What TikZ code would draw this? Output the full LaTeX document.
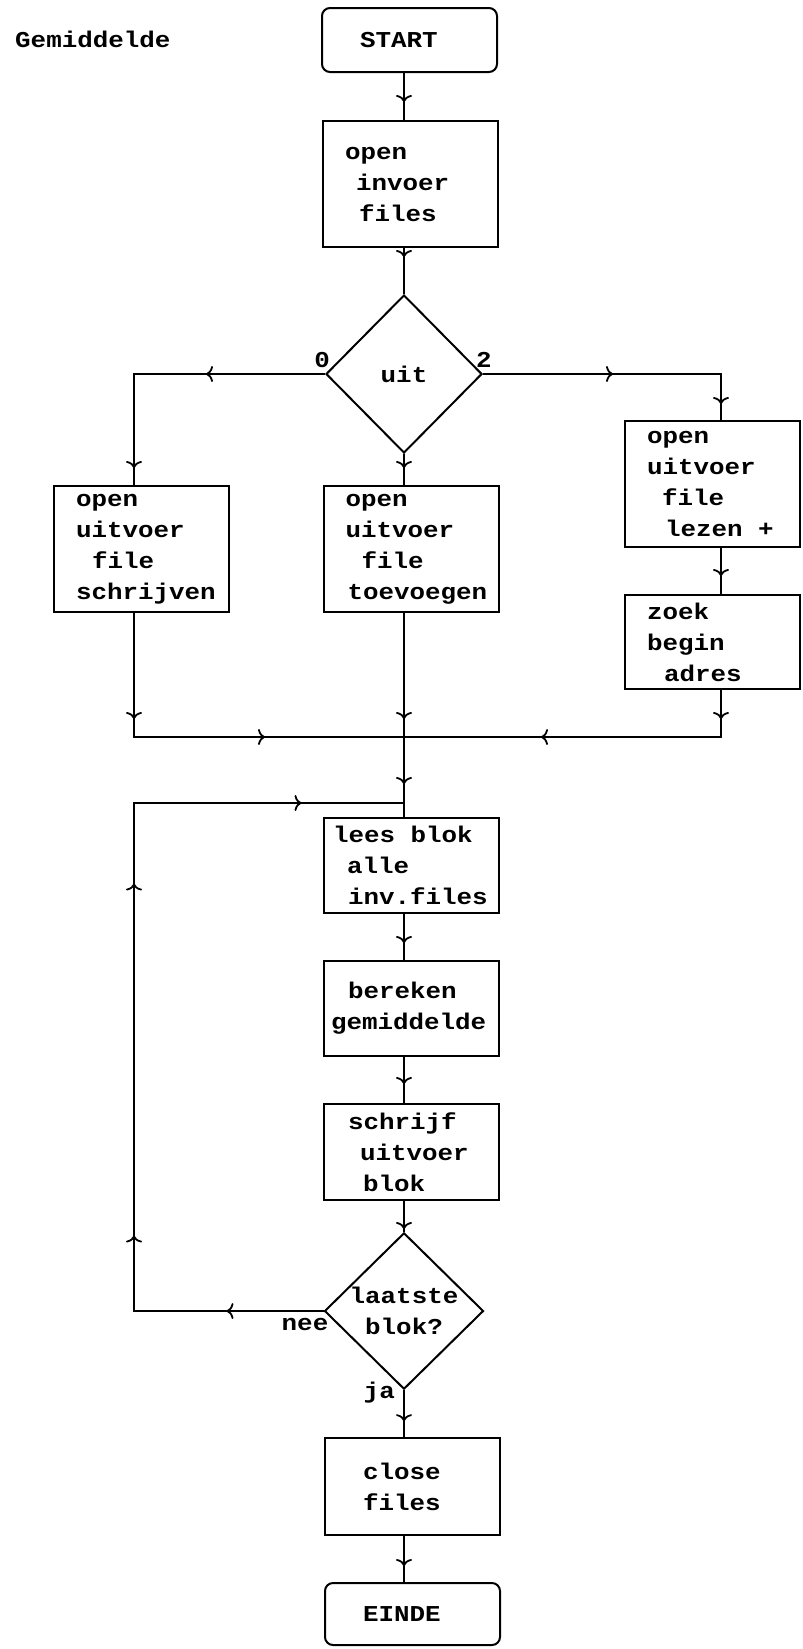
\documentclass[tikz,border=0pt]{standalone}
\usepackage{fontspec}
\newfontfamily\typfont{Liberation Mono}[FakeStretch=1.14]
\usetikzlibrary{arrows.meta,shapes.geometric,decorations.markings}
\newcommand{\inspr}[1]{\hspace*{#1pt}}

\begin{document}
\begin{tikzpicture}[x=1pt,y=-1pt]
    \tikzset{every node/.style={font=\typfont\bfseries\fontsize{22.7}{31}\selectfont}}
    \tikzset{blok/.style={draw,line width=2pt,inner sep=0pt,minimum width=175pt,text width=175pt,align=left}}
    \tikzset{eind/.style={blok,rounded corners=8pt}}
    \tikzset{keuze/.style={draw,diamond,line width=2pt,inner sep=0pt,align=center}}
    \tikzset{lbl/.style={inner sep=0pt}}
    \tikzset{lijn/.style={line width=1.8pt,postaction={decorate}}}
    \tikzset{tip/.style={decoration={markings,mark=at position #1pt with {\arrow{Computer Modern Rightarrow[length=7pt,width=16pt,line width=1.8pt]}}}}}
    \useasboundingbox (0,0) rectangle (803,1649);
    % kolommen
    \coordinate (kolL) at (134,0);
    \coordinate (kolM) at (404,0);
    \coordinate (kolR) at (721,0);
    \coordinate (samen) at (404,737);
    \coordinate (terug) at (404,803);
    % blokken
    \node[lbl,anchor=base west] (titel) at (15,47) {Gemiddelde};
    \node[eind,minimum height=64pt] (start) at (409.5,40) {\inspr{38}START};
    \node[blok,minimum height=126pt] (invoer) at (410.5,184) {\inspr{22}open\\\inspr{33}invoer\\\inspr{36}files};
    \node[keuze,minimum width=156pt,minimum height=158pt] (uit) at (404,374) {uit};
    \node[blok,minimum height=126pt] (links) at (141.5,549) {\inspr{22}open\\\inspr{22}uitvoer\\\inspr{38}file\\\inspr{22}schrijven};
    \node[blok,minimum height=126pt] (midden) at (411,549) {\inspr{22}open\\\inspr{22}uitvoer\\\inspr{38}file\\\inspr{24}toevoegen};
    \node[blok,minimum height=126pt] (rechtsa) at (712.5,484) {\inspr{22}open\\\inspr{22}uitvoer\\\inspr{37}file\\\inspr{40}lezen\inspr{15.5}+};
    \node[blok,minimum height=94pt] (rechtsb) at (712.5,642) {\inspr{22}zoek\\\inspr{22}begin\\\inspr{39}adres};
    \node[blok,minimum height=95pt] (lees) at (411.5,865.5) {\inspr{9}lees\inspr{15.5}blok\\\inspr{23}alle\\\inspr{24}inv.files};
    \node[blok,minimum height=95pt] (bereken) at (411.5,1008.5) {\inspr{24}bereken\\\inspr{7}gemiddelde};
    \node[blok,minimum height=96pt] (schrijf) at (411.5,1152) {\inspr{24}schrijf\\\inspr{36}uitvoer\\\inspr{39}blok};
    \node[keuze,minimum width=159pt,minimum height=156pt] (laatste) at (404,1311) {laatste\\blok?};
    \node[blok,minimum height=97pt] (sluit) at (412.5,1486.5) {\inspr{38}close\\\inspr{38}files};
    \node[eind,minimum height=62pt] (einde) at (412.5,1614) {\inspr{38}EINDE};
    % labels
    \node[lbl,anchor=base east] (nul) at ([xshift=5pt,yshift=7pt]uit.west) {0};
    \node[lbl,anchor=base west] (twee) at ([xshift=-7pt,yshift=7pt]uit.east) {2};
    \node[lbl,anchor=north east] (nee) at ([xshift=5pt,yshift=-7pt]laatste.west) {nee};
    \node[lbl,anchor=base east] (ja) at ([xshift=-9pt,yshift=-8pt]laatste.south) {ja};
    % verbindingen
    \draw[lijn,tip=29] (start.south -| kolM) -- (invoer.north -| kolM);
    \draw[lijn,tip=9] (invoer.south -| kolM) -- (uit.north);
    \draw[lijn,tip=14] (uit.south) -- (midden.north -| kolM);
    \draw[lijn,tip=119,tip=285] (uit.west) -- (uit.west -| kolL) -- (links.north -| kolL);
    \draw[lijn,tip=130,tip=268] (uit.east) -- (uit.east -| kolR) -- (rechtsa.north -| kolR);
    \draw[lijn,tip=28] (rechtsa.south -| kolR) -- (rechtsb.north -| kolR);
    \draw[lijn,tip=106,tip=255] (links.south -| kolL) -- (samen -| kolL) -- (samen);
    \draw[lijn,tip=29,tip=227] (rechtsb.south -| kolR) -- (samen -| kolR) -- (samen);
    \draw[lijn,tip=106,tip=171] (midden.south -| kolM) -- (lees.north -| kolM);
    \draw[lijn,tip=97,tip=265,tip=617,tip=865] (laatste.west) -- (laatste.west -| kolL) -- (terug -| kolL) -- (terug);
    \draw[lijn,tip=29] (lees.south -| kolM) -- (bereken.north -| kolM);
    \draw[lijn,tip=27] (bereken.south -| kolM) -- (schrijf.north -| kolM);
    \draw[lijn,tip=28] (schrijf.south -| kolM) -- (laatste.north);
    \draw[lijn,tip=31] (laatste.south) -- (sluit.north -| kolM);
    \draw[lijn,tip=30] (sluit.south -| kolM) -- (einde.north -| kolM);
\end{tikzpicture}
\end{document}
